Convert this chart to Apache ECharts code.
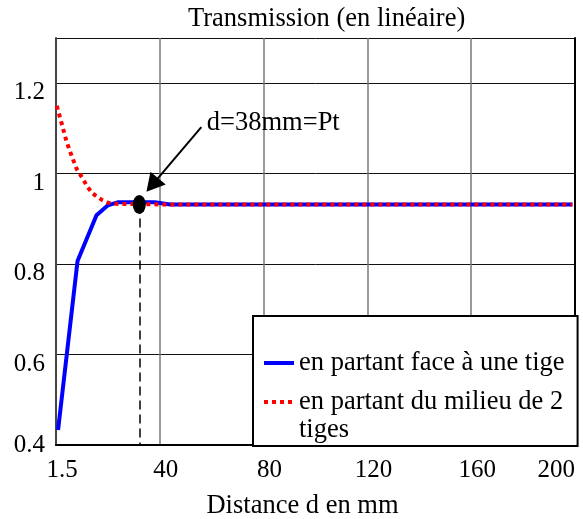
<!DOCTYPE html>
<html>
<head>
<meta charset="utf-8">
<script src="https://cdn.jsdelivr.net/npm/echarts@6/dist/echarts.min.js"></script>
<style>html,body{margin:0;padding:0;background:#fff}#c{width:583px;height:519px}</style>
</head>
<body>
<div id="c"></div>
<script>
// ---- data ----
var titleText = 'Transmission (en linéaire)';
var xAxisName = 'Distance d en mm';
var seriesNames = ['en partant face à une tige', 'en partant du milieu de 2\ntiges'];
var xTickValues = [0, 40, 80, 120, 160, 200];
var xTickLabels = ['1.5', '40', '80', '120', '160', '200'];
var yTickValues = [0.4, 0.6, 0.8, 1.0, 1.2];
var yTickLabels = ['0.4', '0.6', '0.8', '1', '1.2'];
var blueX = [0.8, 8.3, 15.6, 20, 24, 38, 44, 199];
var blueY = [0.433, 0.807, 0.908, 0.930, 0.937, 0.937, 0.932, 0.932];
var redX = [0.3, 2, 4, 6, 8, 10, 12, 14, 16, 18, 20, 24, 40, 199];
var redY = [1.150, 1.115, 1.072, 1.040, 1.010, 0.992, 0.972, 0.957, 0.948, 0.941, 0.936, 0.933, 0.932, 0.932];
var pointD = [32.1, 0.932];
var annotationText = 'd=38mm=Pt';
var annotationPos = [58.1, 1.112];
var arrowFrom = [56.0, 1.103];
var arrowTo = [37.1, 0.975];

function zip(xs, ys) { return xs.map(function (x, i) { return [x, ys[i]]; }); }
function lookup(vals, labels, v) {
  for (var i = 0; i < vals.length; i++) if (Math.abs(vals[i] - v) < 1e-6) return labels[i];
  return null;
}
var serif = 'Liberation Serif';
var chart = echarts.init(document.getElementById('c'));
chart.setOption({
  animation: false,
  backgroundColor: '#fff',
  title: {
    text: titleText, left: 188, top: 6, padding: 0,
    textStyle: { fontFamily: serif, fontWeight: 'normal', fontSize: 26.5, color: '#000', lineHeight: 27 }
  },
  grid: { left: 56, top: 38, right: 8, bottom: 74, containLabel: false, outerBoundsMode: 'none' },
  xAxis: {
    type: 'value', min: 0, max: 200, interval: 40,
    name: xAxisName, nameLocation: 'middle', nameGap: 48,
    nameTextStyle: { fontFamily: serif, fontSize: 26.5, color: '#000', padding: [0, 26, 0, 0], lineHeight: 27 },
    axisLine: { show: true, onZero: false, lineStyle: { color: '#000', width: 2 } },
    axisTick: { show: false },
    axisLabel: {
      margin: 13, fontFamily: serif, fontSize: 25, color: '#000', lineHeight: 25,
      padding: [0, 0, 0, 12], alignMaxLabel: 'right',
      formatter: function (v) { var l = lookup(xTickValues, xTickLabels, v); return l === null ? '' : l; }
    },
    splitLine: { show: true, lineStyle: { color: '#777', width: 1.5 } }
  },
  yAxis: [{
    type: 'value', min: 0.4, max: 1.3, interval: 0.2,
    axisLine: { show: true, onZero: false, lineStyle: { color: '#444', width: 2 } },
    axisTick: { show: false },
    axisLabel: {
      margin: 11, fontFamily: serif, fontSize: 25, color: '#000', lineHeight: 19,
      formatter: function (v) {
        var l = lookup(yTickValues, yTickLabels, v);
        if (l === null) return '';
        return Math.abs(v - yTickValues[0]) < 1e-6 ? l : '\n' + l;
      }
    },
    splitLine: { show: true, lineStyle: { color: '#111', width: 1 } }
  }, {
    type: 'value', min: 0.4, max: 1.3, interval: 0.2, position: 'right',
    axisLine: { show: true, onZero: false, lineStyle: { color: '#000', width: 2 } },
    axisTick: { show: false }, axisLabel: { show: false }, splitLine: { show: false }
  }],
  legend: {
    orient: 'vertical', left: 253, top: 316,
    padding: [33, 13, 2, 9],
    backgroundColor: '#fff', borderColor: '#000', borderWidth: 2, borderRadius: 0,
    itemWidth: 30, itemHeight: 14, itemGap: -17,
    lineStyle: { width: 4 },
    itemStyle: { opacity: 0 },
    textStyle: { fontFamily: serif, fontSize: 26.5, color: '#000', lineHeight: 28 },
    formatter: function (name) { return name === seriesNames[1] ? '\n' + name : name; },
    data: [{ name: seriesNames[0] }, { name: seriesNames[1] }]
  },
  series: [
    {
      name: seriesNames[0], type: 'line', data: zip(blueX, blueY),
      symbol: 'none', z: 2,
      lineStyle: { color: '#0000ff', width: 4 },
      itemStyle: { color: '#0000ff' },
      markLine: {
        silent: true, symbol: ['none', 'none'], animation: false,
        label: { show: false },
        lineStyle: { color: '#000', width: 1.5, type: [9, 5] },
        data: [[{ coord: pointD }, { coord: [pointD[0], yTickValues[0]] }]]
      }
    },
    {
      name: seriesNames[1], type: 'line', data: zip(redX, redY),
      symbol: 'none', z: 3,
      lineStyle: { color: '#ff0000', width: 4, type: [4, 4], cap: 'butt' },
      itemStyle: { color: '#ff0000' },
      markPoint: {
        silent: true, animation: false,
        data: [
          { coord: pointD, symbol: 'circle', symbolSize: [13, 19], itemStyle: { color: '#000' }, label: { show: false } },
          { coord: annotationPos, symbol: 'circle', symbolSize: 0,
            label: { show: true, position: 'right', distance: 0, formatter: annotationText,
                     fontFamily: serif, fontSize: 26.5, color: '#000' } }
        ]
      },
      markLine: {
        silent: true, animation: false,
        symbol: ['none', 'triangle'], symbolSize: [20, 18],
        label: { show: false },
        lineStyle: { color: '#000', width: 2, type: 'solid' },
        itemStyle: { color: '#000' },
        data: [[{ coord: arrowFrom }, { coord: arrowTo }]]
      }
    }
  ]
});
</script>
</body>
</html>
